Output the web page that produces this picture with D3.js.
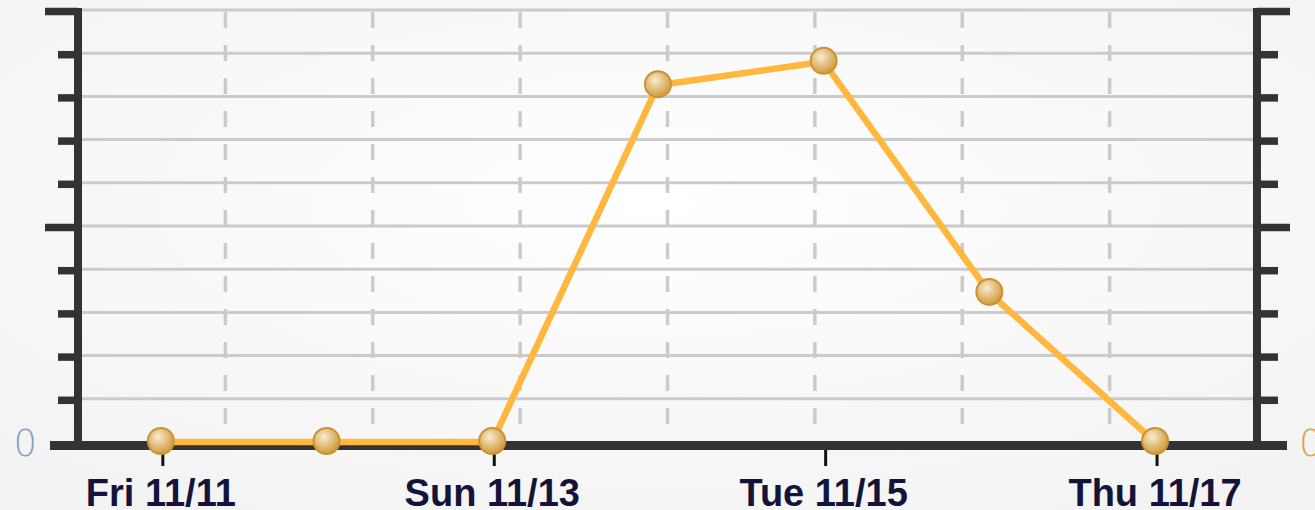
<!DOCTYPE html>
<html><head><meta charset="utf-8">
<script src="https://cdn.jsdelivr.net/npm/d3@7"></script>
<style>html,body{margin:0;padding:0;background:#f6f6f6;overflow:hidden}</style>
</head><body><svg id="c" width="1315" height="510"></svg>
<script>
const days = ["Fri 11/11","Sat 11/12","Sun 11/13","Mon 11/14","Tue 11/15","Wed 11/16","Thu 11/17"];
const values = [0, 0, 0, 8.26, 8.8, 3.45, 0];
const xTickLabels = ["Fri 11/11","Sun 11/13","Tue 11/15","Thu 11/17"];
const yTicks = [0,1,2,3,4,5,6,7,8,9,10];
const yMajorTicks = [0,5,10];
const yLeftLabels = ["0"];
const yRightLabels = ["0"];

const svg = d3.select("#c");
const W = 1315, H = 510;
const xL = 78, xR = 1257, yT = 10, yB = 442;
const step = 165.7;

const defs = svg.append("defs");
const bg = defs.append("radialGradient").attr("id","bg").attr("cx","50%").attr("cy","40%").attr("r","70%");
bg.append("stop").attr("offset","0%").attr("stop-color","#ffffff");
bg.append("stop").attr("offset","100%").attr("stop-color","#f3f3f3");
const pg = defs.append("radialGradient").attr("id","pt").attr("cx","40%").attr("cy","35%").attr("r","65%");
pg.append("stop").attr("offset","0%").attr("stop-color","#f8ecd6");
pg.append("stop").attr("offset","45%").attr("stop-color","#e6c58a");
pg.append("stop").attr("offset","100%").attr("stop-color","#d39a3a");

svg.append("rect").attr("width",W).attr("height",H).attr("fill","url(#bg)");

const x = d3.scalePoint().domain(days).range([xL + step/2, xL + step/2 + step*(days.length-1)]);
const y = d3.scaleLinear().domain([0,10]).range([yB, yT]);
const xg = d3.scaleLinear().domain([0,8]).range([xL, xR]);

// horizontal grid
svg.append("g").selectAll("line").data(yTicks.filter(d=>d>0)).join("line")
  .attr("x1",xL).attr("x2",xR).attr("y1",d=>y(d)).attr("y2",d=>y(d))
  .attr("stroke","#cbcbcb").attr("stroke-width",3);
// vertical dashed grid
svg.append("g").selectAll("line").data(d3.range(1,8)).join("line")
  .attr("x1",d=>xg(d)).attr("x2",d=>xg(d)).attr("y1",yT+2).attr("y2",yB)
  .attr("stroke","#cbcbcb").attr("stroke-width",3.5).attr("stroke-dasharray","16,17");

// left & right axes
const ax = "#333333";
svg.append("line").attr("x1",xL).attr("x2",xL).attr("y1",yT-2).attr("y2",yB+7).attr("stroke",ax).attr("stroke-width",8);
svg.append("line").attr("x1",xR).attr("x2",xR).attr("y1",yT-2).attr("y2",yB+7).attr("stroke",ax).attr("stroke-width",8);
const leftTicks = svg.append("g");
leftTicks.selectAll("line").data(yTicks.filter(d=>d>0)).join("line")
  .attr("x1",d=>yMajorTicks.includes(d)?xL-33:xL-20).attr("x2",xL)
  .attr("y1",d=>y(d)+1.5).attr("y2",d=>y(d)+1.5).attr("stroke",ax).attr("stroke-width",7.5);
const rightTicks = svg.append("g");
rightTicks.selectAll("line").data(yTicks.filter(d=>d>0)).join("line")
  .attr("x1",xR).attr("x2",d=>yMajorTicks.includes(d)?xR+33:xR+21)
  .attr("y1",d=>y(d)+1.5).attr("y2",d=>y(d)+1.5).attr("stroke",ax).attr("stroke-width",7.5);
// bottom axis
svg.append("line").attr("x1",xL-28).attr("x2",xR+30).attr("y1",y(0)+3.5).attr("y2",y(0)+3.5).attr("stroke",ax).attr("stroke-width",9);

// x ticks & labels
svg.append("g").selectAll("line").data(xTickLabels).join("line")
  .attr("x1",d=>x(d)+2).attr("x2",d=>x(d)+2).attr("y1",y(0)+8).attr("y2",y(0)+24)
  .attr("stroke","#111").attr("stroke-width",3);
svg.append("g").selectAll("text").data(xTickLabels).join("text")
  .attr("x",d=>x(d)).attr("y",506).attr("text-anchor","middle")
  .attr("font-family","'Liberation Sans', Arial, sans-serif").attr("font-weight","bold").attr("font-size",38)
  .attr("fill","#14143a").text(d=>d);

// y labels
svg.append("g").selectAll("text").data(yLeftLabels).join("text")
  .attr("x",37).attr("y",d=>y(+d)+14).attr("text-anchor","end")
  .attr("font-family","'DejaVu Sans', sans-serif").attr("font-size",37).attr("font-weight","300")
  .attr("fill","#8aa0c8").text(d=>d);
svg.append("g").selectAll("text").data(yRightLabels).join("text")
  .attr("x",1299).attr("y",d=>y(+d)+14).attr("text-anchor","start")
  .attr("font-family","'DejaVu Sans', sans-serif").attr("font-size",37).attr("font-weight","300")
  .attr("fill","#d9a24a").text(d=>d);

// line
const pts = days.map((d,i)=>({d, v: values[i]}));
svg.append("path").datum(pts)
  .attr("d", d3.line().x(p=>x(p.d)).y(p=>y(p.v)))
  .attr("fill","none").attr("stroke","#ffb73e").attr("stroke-width",6.5).attr("stroke-linejoin","round");
svg.append("g").selectAll("circle").data(pts).join("circle")
  .attr("cx",p=>x(p.d)).attr("cy",p=>y(p.v)-1).attr("r",13)
  .attr("fill","url(#pt)").attr("stroke","#c99335").attr("stroke-width",2);
</script></body></html>
